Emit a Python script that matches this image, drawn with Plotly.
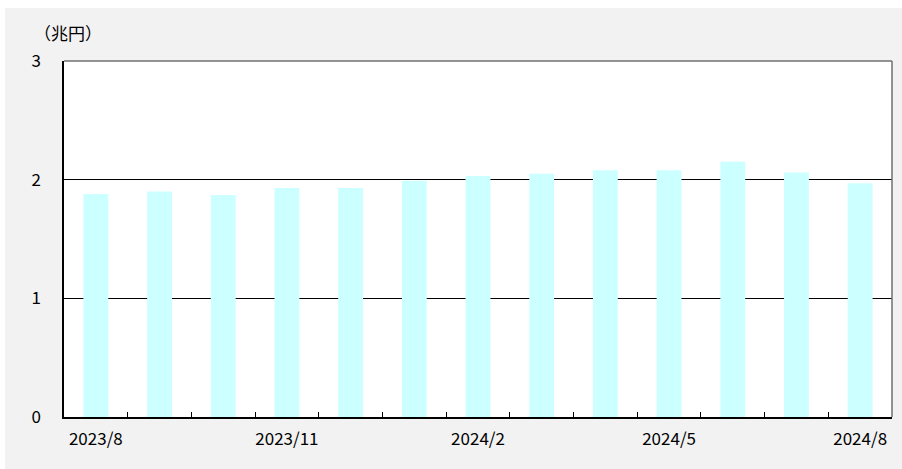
import plotly.graph_objects as go

months = ["2023/8", "2023/9", "2023/10", "2023/11", "2023/12", "2024/1", "2024/2",
          "2024/3", "2024/4", "2024/5", "2024/6", "2024/7", "2024/8"]
values = [1.88, 1.90, 1.87, 1.93, 1.93, 1.99, 2.03, 2.05, 2.08, 2.08, 2.15, 2.06, 1.97]
tick_labels = ["2023/8", "", "", "2023/11", "", "", "2024/2", "", "", "2024/5", "", "", "2024/8"]
y_ticks = [0, 1, 2, 3]
unit_label = "（兆円）"

FONT = "Noto Sans CJK JP"

fig = go.Figure()
fig.add_trace(go.Bar(x=months, y=values, marker=dict(color="#ccffff", line=dict(width=0)),
                     hoverinfo="x+y"))

# plot domain in page pixels: x 64..892, y 61..417
fig.update_layout(
    width=902, height=469,
    margin=dict(l=64, r=10, t=61, b=52, autoexpand=False),
    paper_bgcolor="#f2f2f2",
    plot_bgcolor="white",
    bargap=0.61,
    showlegend=False,
    font=dict(family=FONT, size=17, color="black"),
    xaxis=dict(
        type="category", automargin=False,
        tickmode="array", tickvals=months, ticktext=tick_labels, tickangle=0,
        tickson="boundaries", ticks="inside", ticklen=5, tickcolor="black", tickwidth=1,
        showline=True, linecolor="black", linewidth=1.5,
        showgrid=False, ticklabelstandoff=6,
        tickfont=dict(family=FONT, size=17),
    ),
    yaxis=dict(
        range=[0, 3], tickvals=y_ticks, automargin=False,
        showgrid=True, gridcolor="black", gridwidth=1.2,
        zeroline=False, showline=True, linecolor="black", linewidth=1.5,
        ticks="", ticklabelstandoff=18,
        tickfont=dict(family=FONT, size=17),
    ),
    shapes=[
        # thin white frame at the left and top of the page
        dict(type="rect", xref="paper", yref="paper", x0=-0.08, x1=-0.0713, y0=-0.2, y1=1.2,
             fillcolor="white", line=dict(width=0), layer="below"),
        dict(type="rect", xref="paper", yref="paper", x0=-0.08, x1=1.05, y0=1.1489, y1=1.2,
             fillcolor="white", line=dict(width=0), layer="below"),
        dict(type="line", xref="paper", yref="paper", x0=0, x1=1, y0=1, y1=1,
             line=dict(color="#707070", width=1.5)),
        dict(type="line", xref="paper", yref="paper", x0=1, x1=1, y0=0, y1=1,
             line=dict(color="#707070", width=1.5)),
    ],
    annotations=[
        dict(text=unit_label, xref="paper", yref="paper", x=0.005, y=1.081,
             xanchor="center", yanchor="middle", showarrow=False,
             font=dict(family=FONT, size=17, color="black")),
    ],
)

fig.write_html("out.html",
               config={"displayModeBar": False},
               post_script="document.body.style.margin='0';"
                           "document.body.style.overflow='hidden';"
                           "document.documentElement.style.overflow='hidden';")
